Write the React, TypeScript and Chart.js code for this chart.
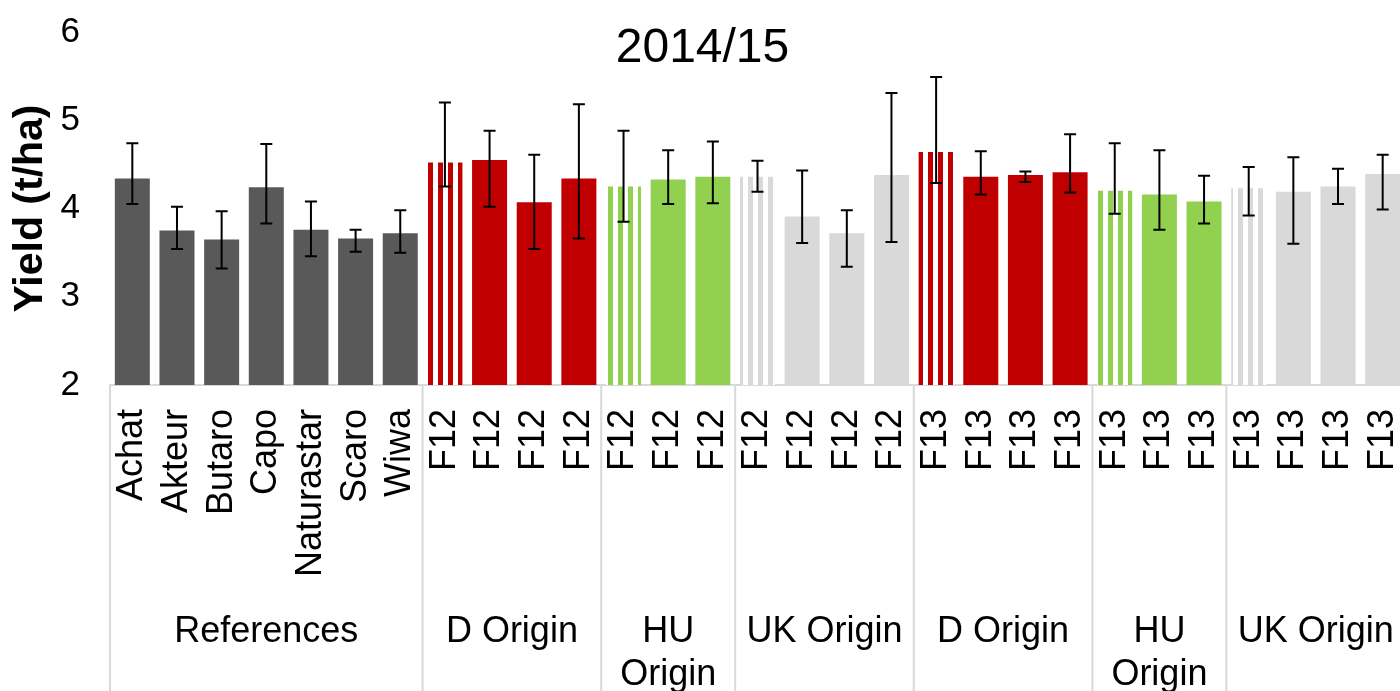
import React, { useEffect, useRef } from "react";
import { Chart, registerables } from "chart.js";

Chart.register(...registerables);

// ---------------- data ----------------
const categories = [
  "Achat", "Akteur", "Butaro", "Capo", "Naturastar", "Scaro", "Wiwa",
  "F12", "F12", "F12", "F12",
  "F12", "F12", "F12",
  "F12", "F12", "F12", "F12",
  "F13", "F13", "F13", "F13",
  "F13", "F13", "F13",
  "F13", "F13", "F13", "F13",
];

const yieldValues = [
  4.34, 3.75, 3.65, 4.24, 3.76, 3.66, 3.72,
  4.52, 4.55, 4.07, 4.34,
  4.25, 4.33, 4.36,
  4.36, 3.91, 3.72, 4.38,
  4.64, 4.36, 4.38, 4.41,
  4.20, 4.16, 4.08,
  4.23, 4.19, 4.25, 4.39,
];

const errLow = [
  4.05, 3.54, 3.32, 3.83, 3.46, 3.51, 3.50,
  4.25, 4.02, 3.54, 3.66,
  3.85, 4.05, 4.06,
  4.19, 3.61, 3.34, 3.62,
  4.29, 4.16, 4.30, 4.18,
  3.94, 3.76, 3.83,
  3.92, 3.60, 4.05, 3.99,
];

const errHigh = [
  4.74, 4.02, 3.97, 4.73, 4.08, 3.76, 3.98,
  5.20, 4.88, 4.61, 5.18,
  4.88, 4.66, 4.76,
  4.54, 4.43, 3.98, 5.31,
  5.49, 4.65, 4.42, 4.84,
  4.74, 4.66, 4.37,
  4.47, 4.58, 4.45, 4.61,
];

const groupNames = ["References", "D Origin", "HU Origin", "UK Origin", "D Origin", "HU Origin", "UK Origin"];
const groupSizes = [7, 4, 3, 4, 4, 3, 4];

const yTicks = [2, 3, 4, 5, 6];
const titleText = "2014/15";
const yAxisTitle = "Yield (t/ha)";

// ---------------- styles ----------------
const FONT = "'Liberation Sans', Arial, Helvetica, sans-serif";
const originColors: Record<string, string> = {
  "References": "#595959",
  "D Origin": "#C00000",
  "HU Origin": "#92D050",
  "UK Origin": "#D9D9D9",
};
const SEP_COLOR = "#D9D9D9";

function makeStripe(color: string): CanvasPattern | string {
  const c = document.createElement("canvas");
  c.width = 10;
  c.height = 10;
  const g = c.getContext("2d");
  if (!g) return color;
  g.fillStyle = "#ffffff";
  g.fillRect(0, 0, 10, 10);
  g.fillStyle = color;
  g.fillRect(0, 0, 5, 10);
  const p = g.createPattern(c, "repeat");
  if (p && typeof DOMMatrix !== "undefined") {
    try {
      p.setTransform(new DOMMatrix().translate(8, 0));
    } catch (e) {
      /* ignore */
    }
  }
  return p || color;
}

function buildColors(): (string | CanvasPattern)[] {
  const out: (string | CanvasPattern)[] = [];
  groupNames.forEach((name, gi) => {
    const col = originColors[name];
    for (let k = 0; k < groupSizes[gi]; k++) {
      if (name !== "References" && k === 0) out.push(makeStripe(col));
      else out.push(col);
    }
  });
  return out;
}

const errorBarPlugin = {
  id: "errorBars",
  afterDatasetsDraw(chart: any) {
    const meta = chart.getDatasetMeta(0);
    const ys = chart.scales.y;
    const ctx = chart.ctx;
    ctx.save();
    ctx.strokeStyle = "#000000";
    ctx.lineWidth = 2;
    meta.data.forEach((bar: any, i: number) => {
      const x = bar.x;
      const yl = ys.getPixelForValue(errLow[i]);
      const yh = ys.getPixelForValue(errHigh[i]);
      const cap = 6;
      ctx.beginPath();
      ctx.moveTo(x, yl);
      ctx.lineTo(x, yh);
      ctx.moveTo(x - cap, yl);
      ctx.lineTo(x + cap, yl);
      ctx.moveTo(x - cap, yh);
      ctx.lineTo(x + cap, yh);
      ctx.stroke();
    });
    ctx.restore();
  },
};

const groupPlugin = {
  id: "groupLabels",
  afterDraw(chart: any) {
    const xs = chart.scales.x;
    const area = chart.chartArea;
    const ctx = chart.ctx;
    const step = xs.getPixelForValue(1) - xs.getPixelForValue(0);
    ctx.save();
    ctx.strokeStyle = SEP_COLOR;
    ctx.lineWidth = 2;
    ctx.font = `36px ${FONT}`;
    ctx.fillStyle = "#000000";
    ctx.textAlign = "center";
    ctx.textBaseline = "alphabetic";
    let start = 0;
    groupSizes.forEach((n, g) => {
      const left = xs.getPixelForValue(start) - step / 2;
      const right = xs.getPixelForValue(start + n - 1) + step / 2;
      ctx.beginPath();
      ctx.moveTo(left, area.bottom);
      ctx.lineTo(left, chart.height);
      if (g === groupSizes.length - 1) {
        ctx.moveTo(right, area.bottom);
        ctx.lineTo(right, chart.height);
      }
      ctx.stroke();
      const name = groupNames[g];
      const cx = (left + right) / 2;
      const lines = ctx.measureText(name).width > right - left - 8 ? name.split(" ") : [name];
      lines.forEach((ln: string, li: number) => {
        ctx.fillText(ln, cx, area.bottom + 257 + li * 43);
      });
      start += n;
    });
    // title inside plot area
    ctx.font = `48px ${FONT}`;
    ctx.fillText(titleText, chart.width / 2, area.top + 30);
    ctx.restore();
  },
};

export default function App() {
  const ref = useRef<HTMLCanvasElement | null>(null);
  useEffect(() => {
    if (!ref.current) return;
    const chart = new Chart(ref.current, {
      type: "bar",
      data: {
        labels: categories,
        datasets: [
          {
            data: yieldValues,
            backgroundColor: buildColors() as any,
            borderWidth: 0,
            barPercentage: 0.784,
            categoryPercentage: 1,
          },
        ],
      },
      options: {
        animation: false,
        responsive: true,
        maintainAspectRatio: false,
        layout: { padding: { top: 32, left: 0, right: 0, bottom: 0 }, autoPadding: false } as any,
        plugins: {
          legend: { display: false },
          title: { display: false },
          tooltip: { enabled: false },
        },
        scales: {
          x: {
            grid: { display: false, drawTicks: false },
            border: { display: true, color: SEP_COLOR, width: 2 },
            ticks: {
              autoSkip: false,
              minRotation: 90,
              maxRotation: 90,
              padding: 24,
              color: "#000000",
              font: { family: FONT, size: 36 },
            },
            afterFit: (s: any) => {
              s.height = 306;
              s.paddingLeft = 0;
              s.paddingRight = 0;
            },
          },
          y: {
            min: yTicks[0],
            max: yTicks[yTicks.length - 1],
            grid: { display: false, drawTicks: false },
            border: { display: false },
            ticks: {
              stepSize: 1,
              padding: 30,
              color: "#000000",
              font: { family: FONT, size: 35 },
            },
            afterBuildTicks: (s: any) => {
              s.ticks = yTicks.map((v) => ({ value: v }));
            },
            title: {
              display: true,
              text: yAxisTitle,
              color: "#000000",
              padding: 6,
              font: { family: FONT, size: 41, weight: "bold" },
            },
            afterFit: (s: any) => {
              s.width = 110;
              s.paddingTop = 0;
              s.paddingBottom = 0;
            },
          },
        },
      },
      plugins: [errorBarPlugin, groupPlugin],
    });
    return () => chart.destroy();
  }, []);

  return (
    <div style={{ position: "fixed", left: 0, top: 0, width: 1405, height: 691, background: "#ffffff" }}>
      <canvas ref={ref} />
    </div>
  );
}
